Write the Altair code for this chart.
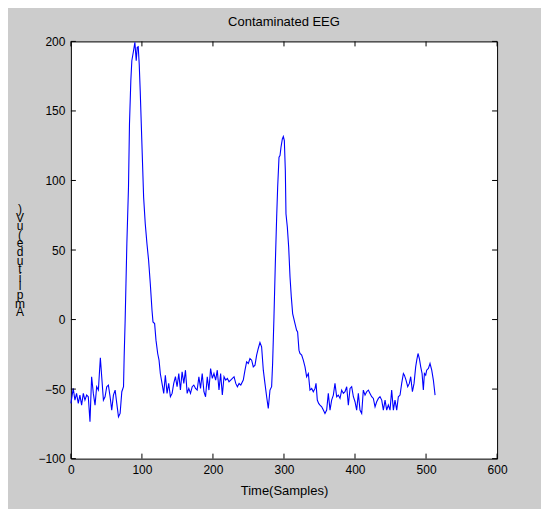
import altair as alt
import pandas as pd

# ---- data ----
samples = [0, 3.3, 5.7, 8.0, 10.4, 12.7, 15.1, 17.5, 19.8, 22.2, 24.5, 26.9, 29.2, 31.6, 34.0, 36.3,
           38.7, 41.5, 43.4, 45.8, 48.1, 50.5, 52.8, 55.2, 57.5, 59.9, 62.3, 64.6, 67.0, 69.3, 71.7,
           74.1, 75.0, 76.4, 78.8, 81.1, 82.5, 84.4, 85.8, 88.2, 90.1, 92.0, 93.4, 94.8, 96.2, 97.6,
           100.0, 102.4, 104.7, 107.1, 109.4, 111.8, 114.2, 115.6, 117.9, 119.8, 122.2, 124.1, 125.9,
           128.3, 130.7, 133.0, 135.4, 137.7, 140.1, 142.5, 144.8, 147.2, 149.5, 151.9, 154.2, 156.6,
           159.0, 161.3, 163.7, 166.0, 168.4, 170.8, 173.1, 175.5, 177.8, 180.2, 182.5, 184.9, 187.3,
           189.6, 192.0, 194.3, 196.7, 199.1, 201.4, 203.8, 206.1, 208.5, 210.8, 213.2, 215.6, 217.9,
           220.3, 222.6, 225.0, 227.4, 229.7, 232.1, 234.4, 236.8, 239.2,
           242.7, 245.1, 247.4, 249.8, 252.1, 254.5, 256.8, 259.2, 261.5, 263.8, 266.2, 268.5, 270.9,
           273.2, 275.6, 277.9, 280.3, 282.6, 284.0, 285.9, 287.8, 289.7, 291.1, 293.0, 294.4, 295.8,
           297.7, 299.1, 300.5, 301.9, 302.8, 304.7, 306.6, 308.5, 310.3, 312.2, 315.5, 317.8, 319.2,
           321.1, 322.5, 324.9, 327.2, 329.6, 331.9, 334.3, 336.6, 339.0, 341.3, 343.7, 345.1, 346.9,
           348.8, 350.7, 353.1, 355.4, 357.7, 360.1, 362.4, 364.8, 367.1, 369.5, 371.8, 374.2, 376.5,
           378.9, 381.2, 383.6, 385.9, 388.3, 390.6, 393.0, 395.3, 397.7, 400.0, 402.3, 404.7, 407.0,
           409.4, 411.7, 414.1, 416.4, 418.8, 421.1, 423.5, 425.8, 428.2, 430.5, 432.9, 435.2, 437.6,
           439.9, 442.3, 444.6, 446.9, 449.3, 451.6, 454.0, 456.3, 458.7, 461.0, 463.4, 465.7, 468.1,
           469.5, 471.8, 474.2, 476.5, 478.4, 480.8, 483.1, 485.4, 486.9, 488.7, 490.6, 492.5, 494.4,
           496.2, 497.7, 499.5, 500.9, 503.3, 505.6, 508.0, 510.3, 512.7]

amplitude = [-60.3, -49.5, -57.9, -53.1, -60.3, -54.3, -61.5, -53.1, -57.9, -54.3, -55.5, -73.4,
             -41.1, -53.1, -61.5, -48.3, -50.7, -27.5, -41.1, -57.9, -55.5, -48.3, -47.1, -55.5,
             -65.1, -54.3, -50.7, -60.3, -69.9, -67.5, -51.9, -48.3, -26.8, -0.5, 54.5, 95.2,
             140.7, 171.8, 186.1, 193.3, 199.3, 186.1, 195.7, 196.2, 183.7, 164.6, 126.3, 88.0,
             68.9, 54.5, 42.6, 25.8, 6.7, -1.7, -2.9, -14.8, -24.4, -29.2, -38.8, -45.9, -53.1,
             -40.0, -53.1, -45.9, -55.5, -53.1, -45.9, -41.1, -48.3, -38.8, -50.7, -37.6, -45.9,
             -36.4, -53.1, -49.5, -53.1, -48.3, -47.1, -49.5, -50.7, -41.1, -49.5, -38.8, -51.9,
             -55.5, -41.1, -50.7, -35.2, -42.3, -38.8, -43.5, -36.4, -50.7, -38.8, -54.3, -41.1,
             -43.5, -42.3, -44.7, -43.5, -42.3, -41.1, -45.9, -48.3, -45.9, -47.1,
             -43.5, -36.4, -30.4, -31.6, -28.0, -29.2, -34.0, -32.8, -25.6, -20.8, -16.5, -19.6,
             -36.4, -45.9, -55.5, -63.9, -50.7, -48.3, -31.6, 1.9, 40.2, 73.7, 95.2, 116.7, 117.9,
             123.9, 129.9, 131.6, 128.7, 107.2, 76.1, 66.5, 52.2, 30.6, 16.3, 4.3, -2.9, -7.7,
             -8.9, -22.0, -24.4, -25.6, -29.2, -34.0, -41.1, -38.8, -50.7, -49.5, -51.9, -49.5,
             -45.9, -57.9, -60.3, -61.5, -62.7, -65.1, -67.5, -65.1, -53.1, -65.1, -57.9, -54.3,
             -45.9, -55.5, -54.3, -56.7, -50.7, -53.1, -51.9, -48.3, -61.5, -49.5, -48.3, -55.5,
             -59.1, -65.1, -53.1, -65.1, -67.5, -50.7, -54.3, -51.9, -50.7, -53.1, -55.5, -56.7,
             -62.7, -59.1, -56.7, -55.5, -57.9, -65.1, -57.9, -65.1, -61.5, -65.1, -50.7, -65.1,
             -57.9, -65.1, -55.5, -54.3, -45.9, -38.8, -40.0, -43.5, -48.3, -45.9, -41.1, -51.9,
             -45.9, -34.0, -29.2, -24.4, -28.0, -34.0, -38.8, -50.7, -38.8, -40.0, -36.4, -35.2,
             -31.6, -36.4, -43.5, -54.3]

x_ticks = [0, 100, 200, 300, 400, 500, 600]
y_ticks = [-100, -50, 0, 50, 100, 150, 200]

title_text = "Contaminated EEG"
x_title = "Time(Samples)"
y_title = "Amplitude(uV)"

FONT = "Liberation Sans"
W, H = 427, 418
TICK = 5

df = pd.DataFrame({"s": samples, "v": amplitude})
xt = pd.DataFrame({"t": x_ticks})
yt = pd.DataFrame({"t": y_ticks})

xscale = alt.Scale(domain=[0, 600], nice=False, zero=False)
yscale = alt.Scale(domain=[-100, 200], nice=False, zero=False)

line = alt.Chart(df).mark_line(color="#0000ff", strokeWidth=1.1).encode(
    x=alt.X("s:Q", scale=xscale,
            axis=alt.Axis(values=x_ticks, title=x_title, grid=False, ticks=False, tickSize=0,
                          domain=False, labelPadding=6, titlePadding=9, labelFont=FONT,
                          titleFont=FONT, labelFontSize=12, titleFontSize=13, labelFlush=False,
                          titleFontWeight="normal", labelColor="black", titleColor="black")),
    y=alt.Y("v:Q", scale=yscale,
            axis=alt.Axis(values=y_ticks, title=None, grid=False, ticks=False, tickSize=0,
                          domain=False, labelPadding=6, labelFont=FONT, labelFontSize=12,
                          labelFlush=False, labelColor="black")),
)

xb = alt.Chart(xt).mark_rule(color="black", strokeWidth=1).encode(
    x=alt.X("t:Q", scale=xscale), y=alt.value(H), y2=alt.value(H - TICK))
xtop = alt.Chart(xt).mark_rule(color="black", strokeWidth=1).encode(
    x=alt.X("t:Q", scale=xscale), y=alt.value(0), y2=alt.value(TICK))
yl = alt.Chart(yt).mark_rule(color="black", strokeWidth=1).encode(
    y=alt.Y("t:Q", scale=yscale), x=alt.value(0), x2=alt.value(TICK))
yr = alt.Chart(yt).mark_rule(color="black", strokeWidth=1).encode(
    y=alt.Y("t:Q", scale=yscale), x=alt.value(W), x2=alt.value(W - TICK))

ylab = alt.Chart(pd.DataFrame({"lab": ["\n".join(reversed(y_title))]})).mark_text(
    font=FONT, fontSize=12, color="black", lineBreak="\n", lineHeight=8.6,
    align="center", baseline="middle"
).encode(text="lab:N", x=alt.value(-51), y=alt.value(168))

chart = alt.layer(line, xb, xtop, yl, yr, ylab).properties(
    width=W, height=H,
    title=alt.TitleParams(title_text, font=FONT, fontSize=13, fontWeight="normal",
                          color="black", anchor="middle", offset=6),
    background="#cccccc",
    padding={"left": 63, "top": 33, "right": 44, "bottom": 50},
    autosize=alt.AutoSizeParams(type="none"),
).configure_view(fill="white", stroke="black", strokeWidth=1)

chart.save("out.html", embed_options={"renderer": "svg", "actions": False})
